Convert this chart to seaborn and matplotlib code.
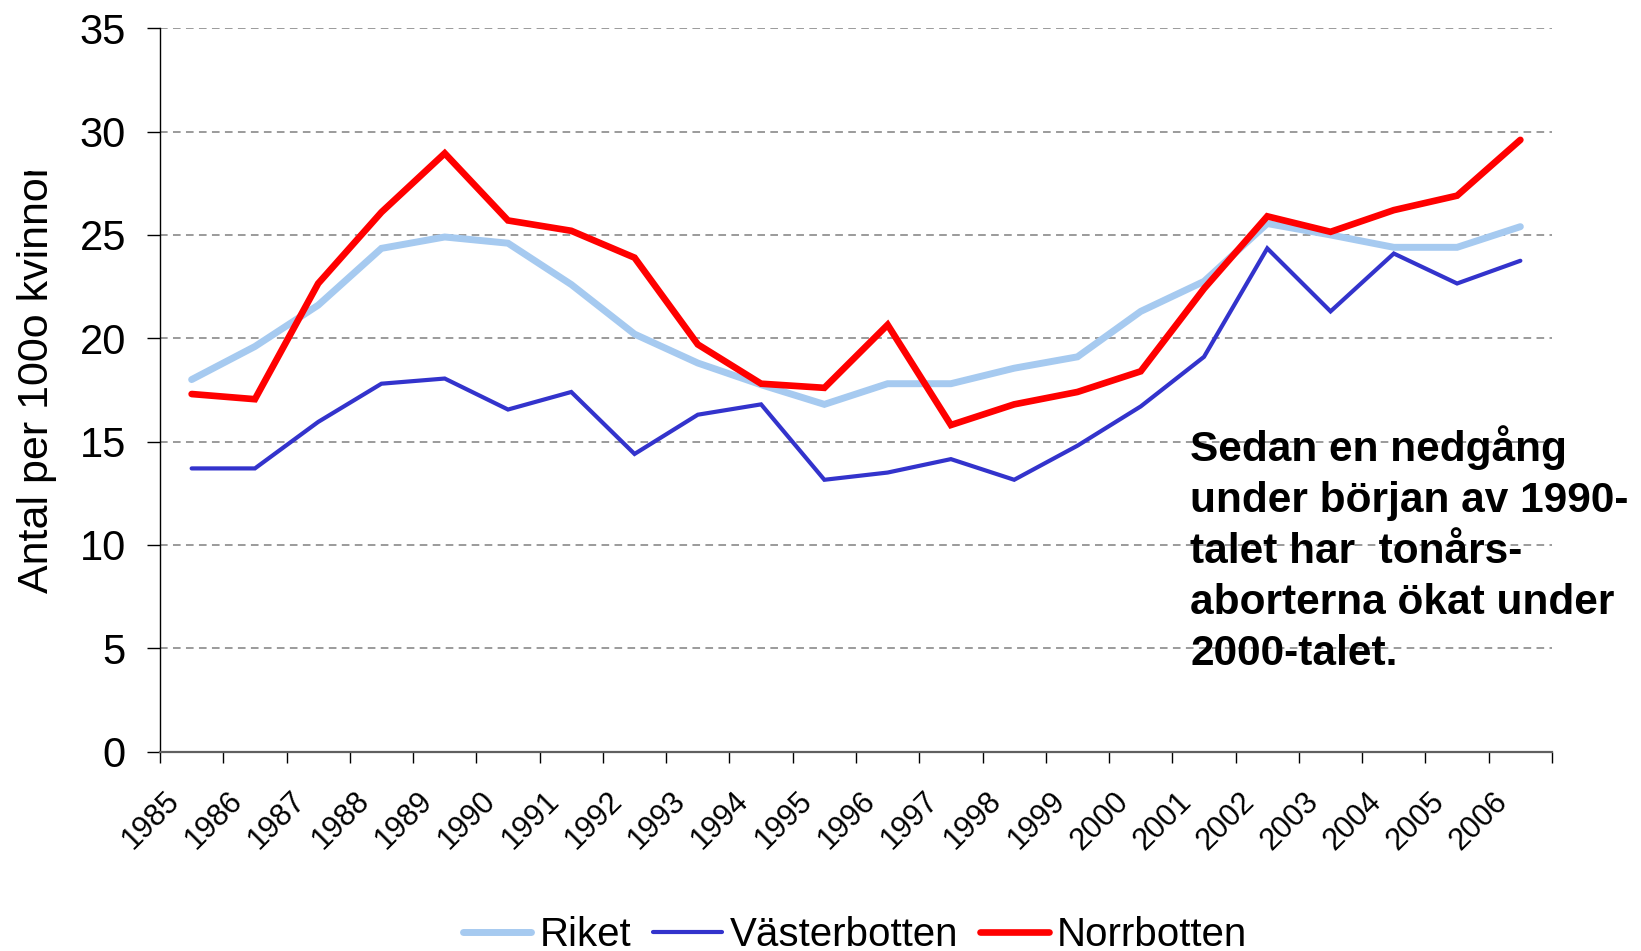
import numpy as np
import pandas as pd
import matplotlib
matplotlib.use("Agg")
import matplotlib.pyplot as plt
import matplotlib.transforms as mtransforms
import seaborn as sns
from matplotlib.transforms import Bbox

# Data
years = [str(y) for y in range(1985, 2007)]
riket = [18.0, 19.6, 21.6, 24.35, 24.9, 24.6, 22.6, 20.2, 18.8, 17.75, 16.8,
         17.8, 17.8, 18.55, 19.1, 21.3, 22.75, 25.55, 25.0, 24.4, 24.4, 25.4]
vasterbotten = [13.7, 13.7, 15.95, 17.8, 18.05, 16.55, 17.4, 14.4, 16.3, 16.8, 13.15,
                13.5, 14.15, 13.15, 14.8, 16.7, 19.1, 24.35, 21.3, 24.1, 22.65, 23.75]
norrbotten = [17.3, 17.05, 22.65, 26.1, 28.95, 25.7, 25.2, 23.9, 19.7, 17.8, 17.6,
              20.65, 15.8, 16.8, 17.4, 18.4, 22.4, 25.9, 25.15, 26.2, 26.9, 29.6]
series_names = ["Riket", "Västerbotten", "Norrbotten"]
colors = ["#A6CAF0", "#3333CC", "#FF0000"]
widths = [5.0, 3.0, 4.8]

df = pd.DataFrame({
    "pos": list(range(len(years))) * 3,
    "value": riket + vasterbotten + norrbotten,
    "serie": [s for s in series_names for _ in years],
})

sns.set_style("white")
plt.rcParams["font.family"] = ["Liberation Sans", "DejaVu Sans"]
plt.rcParams["text.color"] = "black"
plt.rcParams["xtick.color"] = "black"
plt.rcParams["ytick.color"] = "black"
plt.rcParams["axes.labelcolor"] = "black"

fig = plt.figure(figsize=(16.41, 9.51), dpi=100)
ax = fig.add_axes([160 / 1641, 1 - 751.5 / 951, (1552 - 160) / 1641, (751.5 - 28.3) / 951])

for name, col, lw in zip(series_names, colors, widths):
    sns.lineplot(data=df[df["serie"] == name], x="pos", y="value", color=col,
                 linewidth=lw, ax=ax, label=name, solid_capstyle="round",
                 solid_joinstyle="miter")

ax.set_xlim(-0.5, len(years) - 0.5)
ax.set_ylim(0, 35)
ax.set_yticks(range(0, 36, 5))
ax.set_xticks(np.arange(len(years) + 1) - 0.5)
ax.set_xticklabels(years + [""], rotation=45, ha="right", rotation_mode="anchor", fontsize=22)
ax.tick_params(axis="y", labelsize=30, length=9.5, width=1, direction="out", pad=15, left=True)
ax.tick_params(axis="x", length=8, width=1, direction="out", pad=17, bottom=True)
shift = mtransforms.ScaledTranslation(3 / 72, 0, fig.dpi_scale_trans)
for lab in ax.get_xticklabels():
    lab.set_transform(lab.get_transform() + shift)
ax.yaxis.grid(True, linestyle=(0, (5, 3.5)), color="#808080", linewidth=1.1)
ax.xaxis.grid(False)
ax.set_axisbelow(True)
for s in ["top", "right"]:
    ax.spines[s].set_visible(False)
ax.spines["left"].set_color("black")
ax.spines["left"].set_linewidth(1)
ax.spines["bottom"].set_color("#606060")
ax.spines["bottom"].set_linewidth(1.6)
ax.set_xlabel("")
ax.set_ylabel("")

# y label, clipped at the top like in the original
yl = fig.text(37 / 1641, 1 - 593 / 951, "Antal per 100o kvinnor", rotation=90,
              ha="center", va="bottom", fontsize=31)
yl.set_clip_box(Bbox.from_extents(0, 0, 1641, 951 - 171))
yl.set_clip_on(True)

# annotation
fig.text(1190 / 1641, 1 - 425 / 951,
         "Sedan en nedgång\nunder början av 1990-\ntalet har  tonårs-\naborterna ökat under\n2000-talet.",
         ha="left", va="top", fontsize=30.5, fontweight="bold", linespacing=1.36)

ax.legend_.remove()
handles, labels = ax.get_legend_handles_labels()
fig.legend(handles, labels, loc="center", bbox_to_anchor=(0.521, 0.017), ncol=3,
           frameon=False, fontsize=29, handlelength=1.7, handletextpad=0.2,
           columnspacing=0.55, borderaxespad=0)

fig.savefig("out.png", dpi=100)
